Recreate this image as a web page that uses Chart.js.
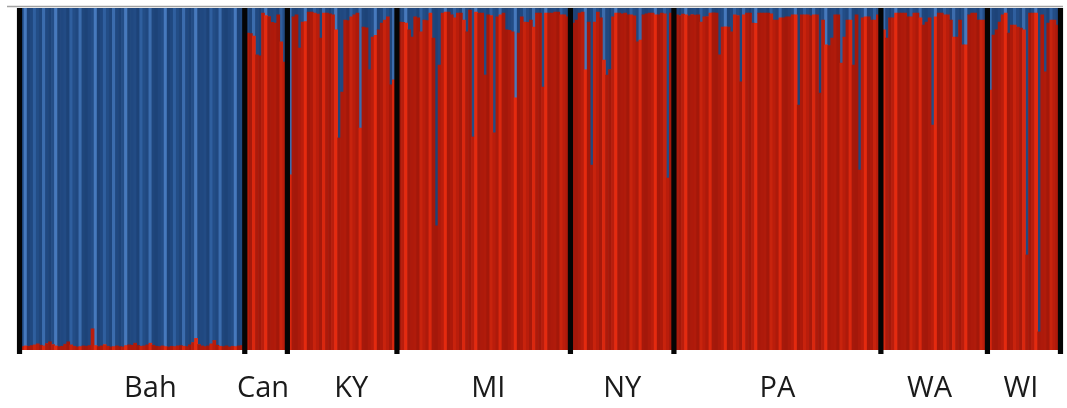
<!DOCTYPE html>
<html>
<head>
<meta charset="utf-8">
<script src="https://cdn.jsdelivr.net/npm/chart.js@4/dist/chart.umd.min.js"></script>
<style>
  html, body { margin: 0; padding: 0; background: #ffffff; }
  #wrap { width: 1067px; height: 408px; }
</style>
</head>
<body>
<div id="wrap"><canvas id="c" width="1067" height="408"></canvas></div>
<script>
// Population names, in plotting order
const populations = ['Bah', 'Can', 'KY', 'MI', 'NY', 'PA', 'WA', 'WI'];

// Membership in cluster 2 (red) for every individual, per population.
// Cluster 1 (blue) is the remainder of each bar.
const bah = [
  0.010,0.012,0.011,0.013,0.015,0.018,0.014,0.012,0.019,0.024,
  0.016,0.012,0.010,0.011,0.017,0.024,0.015,0.011,0.009,0.010,
  0.012,0.011,0.013,0.062,0.013,0.010,0.012,0.016,0.011,0.009,
  0.010,0.012,0.010,0.009,0.013,0.015,0.014,0.020,0.013,0.011,
  0.012,0.015,0.020,0.014,0.011,0.010,0.012,0.010,0.009,0.011,
  0.010,0.012,0.013,0.011,0.010,0.015,0.022,0.034,0.016,0.012,
  0.010,0.012,0.018,0.028,0.014,0.011,0.010,0.012,0.009,0.011,
  0.010,0.012,0.013
];
const can = [0.927,0.925,0.918,0.863,0.860,0.985,0.978,0.975,0.958,0.956,0.980,0.901,0.842];
const ky = [
  0.512,0.974,0.980,0.883,0.959,0.960,0.988,0.988,0.985,0.982,
  0.912,0.985,0.985,0.983,0.980,0.936,0.620,0.754,0.965,0.963,
  0.974,0.980,0.985,0.649,0.944,0.942,0.819,0.915,0.920,0.936,
  0.956,0.965,0.974,0.775,0.790
];
const mi = [
  0.959,0.958,0.956,0.936,0.915,0.974,0.971,0.930,0.965,0.963,
  0.985,0.912,0.363,0.833,0.985,0.988,0.988,0.980,0.971,0.985,
  0.985,0.965,0.930,0.994,0.623,0.988,0.985,0.985,0.804,0.980,
  0.978,0.635,0.974,0.980,0.985,0.936,0.935,0.930,0.737,0.927,
  0.974,0.959,0.958,0.965,0.944,0.985,0.985,0.769,0.985,0.985,
  0.985,0.988,0.988,0.980,0.980,0.974
];
const ny = [
  0.956,0.965,0.985,0.988,0.819,0.959,0.541,0.959,0.988,0.971,
  0.848,0.804,0.820,0.974,0.985,0.985,0.983,0.985,0.980,0.980,
  0.977,0.901,0.906,0.980,0.983,0.985,0.985,0.980,0.980,0.985,
  0.983,0.503,0.985
];
const pa = [
  0.980,0.978,0.982,0.980,0.977,0.981,0.979,0.980,0.959,0.974,
  0.975,0.985,0.986,0.985,0.863,0.944,0.945,0.944,0.930,0.980,
  0.978,0.784,0.980,0.985,0.985,0.956,0.955,0.985,0.985,0.985,
  0.985,0.983,0.965,0.965,0.971,0.971,0.974,0.974,0.980,0.980,
  0.716,0.980,0.980,0.980,0.977,0.980,0.980,0.751,0.965,0.892,
  0.890,0.912,0.980,0.980,0.839,0.915,0.965,0.965,0.833,0.980,
  0.526,0.971,0.974,0.974,0.965,0.965,0.980
];
const wa = [
  0.936,0.912,0.971,0.971,0.985,0.985,0.985,0.985,0.974,0.974,
  0.985,0.985,0.971,0.950,0.959,0.971,0.658,0.974,0.985,0.985,
  0.980,0.980,0.965,0.915,0.915,0.965,0.892,0.892,0.980,0.985,
  0.985,0.965,0.965,0.965
];
const wi = [
  0.760,0.921,0.936,0.959,0.980,0.985,0.927,0.950,0.950,0.944,
  0.941,0.936,0.278,0.985,0.985,0.985,0.053,0.980,0.813,0.956,
  0.965,0.965,0.950
];

const groupValues = [bah, can, ky, mi, ny, pa, wa, wi];

// Build one category per individual, with an empty slot before, between
// and after the populations where the black dividers are drawn.
const labels = [];
const red = [];
const blue = [];
const dividerIdx = [];
const labelIdx = {};
const labelShift = [6, -1, 3, 1, 0, 0, -2, -1]; // nudges population names
groupValues.forEach((vals, g) => {
  dividerIdx.push(labels.length);
  labels.push('');
  red.push(null);
  blue.push(null);
  const start = labels.length;
  vals.forEach((v, i) => {
    labels.push(populations[g] + ' ' + (i + 1));
    red.push(v);
    blue.push(1 - v);
  });
  labelIdx[start + Math.floor(vals.length / 2) + labelShift[g]] = populations[g];
});
dividerIdx.push(labels.length);
labels.push('');
red.push(null);
blue.push(null);

// Slightly varying shades give the striped look of the individual bars
const redShades = ['#ad1a0b', '#b91d0c', '#a3180a', '#e42a0f', '#b01b0b', '#c8230d', '#a6190b', '#d9270e'];
const blueShades = ['#204880', '#234d86', '#1d4378', '#4679bd', '#224b84', '#2f5f9f', '#1f467c', '#3b6cad'];
const shadeOrder = [0, 1, 3, 2, 0, 5, 1, 6, 7, 0, 2, 1, 3, 6, 0, 4, 2, 5, 1, 0, 7, 6, 2];
const pick = (arr) => (ctx) => arr[shadeOrder[ctx.dataIndex % shadeOrder.length]];

const dividers = {
  id: 'dividers',
  afterDatasetsDraw(chart) {
    const { ctx, chartArea, scales } = chart;
    ctx.save();
    // thin grey frame line along the top
    ctx.strokeStyle = '#a3a3a3';
    ctx.lineWidth = 1.5;
    ctx.beginPath();
    ctx.moveTo(7, chartArea.top - 1.5);
    ctx.lineTo(chartArea.right + 1, chartArea.top - 1.5);
    ctx.stroke();
    // black dividers between populations
    ctx.fillStyle = '#050505';
    dividerIdx.forEach((idx) => {
      const x = scales.x.getPixelForValue(idx);
      ctx.fillRect(x - 2.6, chartArea.top, 5.2, chartArea.bottom - chartArea.top + 4);
    });
    ctx.restore();
  }
};

new Chart(document.getElementById('c'), {
  type: 'bar',
  data: {
    labels: labels,
    datasets: [
      { label: 'Cluster 2', data: red, backgroundColor: pick(redShades), borderWidth: 0,
        categoryPercentage: 1.0, barPercentage: 1.0 },
      { label: 'Cluster 1', data: blue, backgroundColor: pick(blueShades), borderWidth: 0,
        categoryPercentage: 1.0, barPercentage: 1.0 }
    ]
  },
  options: {
    responsive: false,
    animation: false,
    devicePixelRatio: 1,
    layout: { padding: { top: 8, left: 18, right: 5, bottom: 0 } },
    plugins: { legend: { display: false }, tooltip: { enabled: false } },
    scales: {
      x: {
        stacked: true,
        grid: { display: false, drawTicks: false },
        border: { display: false },
        afterFit(scale) {
          scale.height = 58;
          scale.paddingLeft = 0;
          scale.paddingRight = 0;
        },
        ticks: {
          autoSkip: false,
          maxRotation: 0,
          minRotation: 0,
          padding: 21,
          color: '#1a1a1a',
          font: { family: '"Open Sans", sans-serif', size: 29 },
          callback: (val, idx) => labelIdx[idx] || ''
        }
      },
      y: {
        stacked: true,
        display: false,
        min: 0,
        max: 1
      }
    }
  },
  plugins: [dividers]
});
</script>
</body>
</html>
